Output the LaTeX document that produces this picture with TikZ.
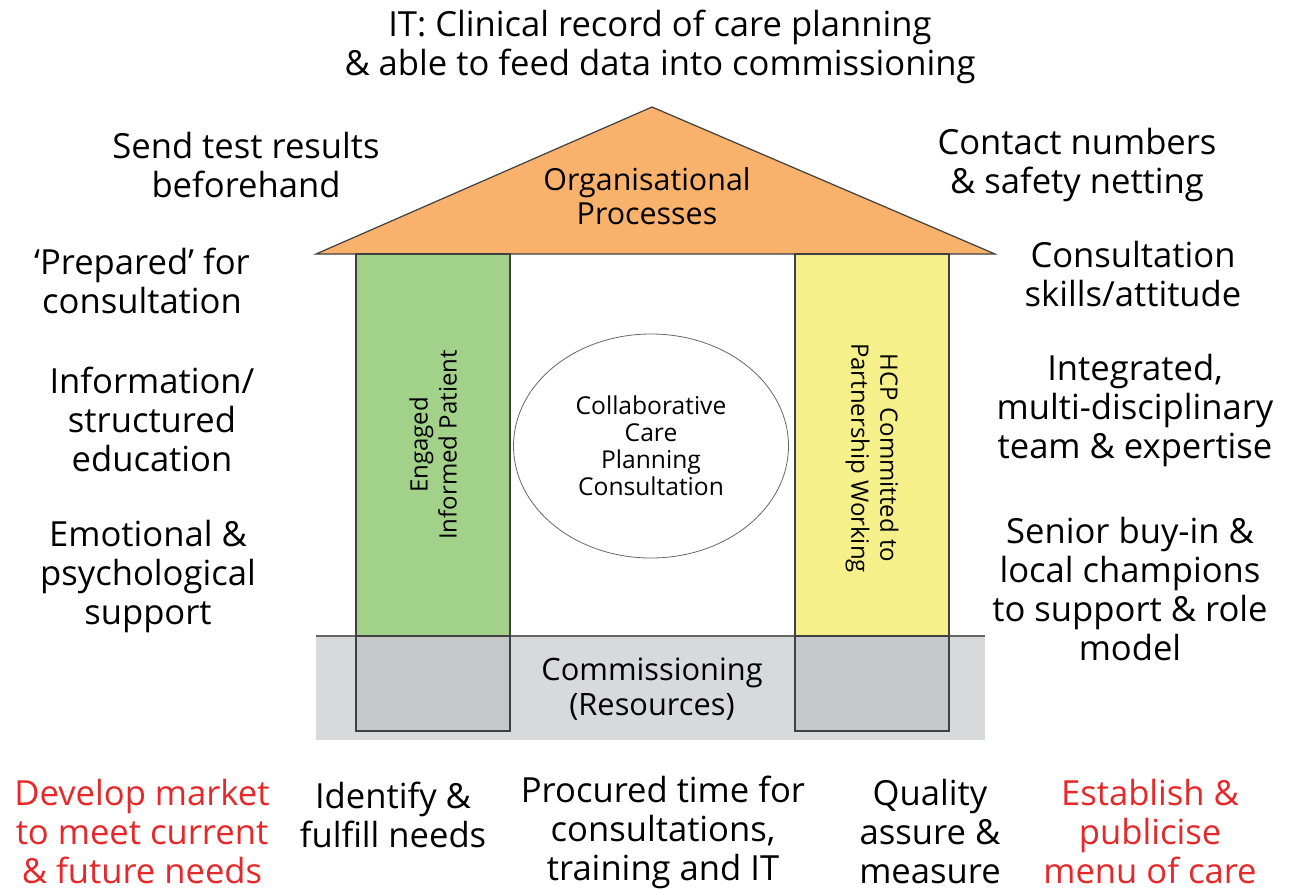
\documentclass[tikz,border=0pt]{standalone}
\usepackage{fontspec}
\setmainfont{Open Sans}
\usepackage{tikz}
\usetikzlibrary{shapes.geometric,positioning}
\definecolor{roofor}{RGB}{249,178,107}
\definecolor{patgreen}{RGB}{162,209,138}
\definecolor{hcpyellow}{RGB}{246,240,139}
\definecolor{basegray}{RGB}{216,217,219}
\definecolor{boxgray}{RGB}{198,199,201}
\definecolor{redtxt}{RGB}{230,40,43}

\begin{document}
\begin{tikzpicture}[x=0.5pt, y=-0.5pt,
    lbl/.style={align=center, inner sep=0pt, font=\fontsize{17.3}{19.5}\selectfont},
    redlbl/.style={lbl, text=redtxt},
    inlbl/.style={align=center, inner sep=0pt, font=\fontsize{15.2}{17}\selectfont},
    part/.style={draw=black!75, line width=0.6pt}
]
    \useasboundingbox (0,0) rectangle (1290,894);

    \fill[basegray] (316,636) rectangle (985,740);
    \draw[black!60, line width=0.8pt] (316,636) -- (985,636);
    \draw[part, fill=roofor] (316,254) -- (652,107) -- (995,254) -- cycle;
    \draw[part, fill=patgreen] (356,254) rectangle (510,636);
    \draw[part, fill=hcpyellow] (795,254) rectangle (949,636);
    \draw[part, fill=boxgray] (356,636) rectangle (510,731);
    \draw[part, fill=boxgray] (795,636) rectangle (949,731);

    \node[inlbl] (roof) at (647,196) {Organisational\\Processes};
    \node[inlbl, font=\fontsize{12}{14.5}\selectfont, rotate=90] (patient) at (433,445) {Engaged\\Informed Patient};
    \node[inlbl, font=\fontsize{12}{14.5}\selectfont, rotate=-90] (hcp) at (872,458) {HCP Committed to\\Partnership Working};
    \node[draw=black!60, line width=0.4pt, ellipse, minimum width=137.5pt, minimum height=112pt,
          align=center, inner sep=0pt, font=\fontsize{12.3}{13.5}\selectfont] (ccp) at (651,446)
          {Collaborative\\Care\\Planning\\Consultation};
    \node[inlbl, font=\fontsize{15.4}{17.5}\selectfont] (comm) at (652,689) {Commissioning\\(Resources)};

    \node[lbl] (it) at (660,47) {IT: Clinical record of care planning\\\& able to feed data into commissioning};
    \node[lbl] (send) at (246,165) {Send test results\\beforehand};
    \node[lbl] (contact) at (1077,165) {Contact numbers\\\& safety netting};
    \node[lbl] (prep) at (142,281) {`Prepared' for\\consultation};
    \node[lbl] (info) at (152,419) {Information/\\structured\\education};
    \node[lbl] (emo) at (148,577) {Emotional \&\\psychological\\support};
    \node[lbl] (skills) at (1133,274) {Consultation\\skills/attitude};
    \node[lbl] (team) at (1135,411) {Integrated,\\multi-disciplinary\\team \& expertise};
    \node[lbl] (senior) at (1130,589) {Senior buy-in \&\\local champions\\to support \& role\\model};

    \node[redlbl] (market) at (142,832) {Develop market\\to meet current\\\& future needs};
    \node[lbl] (needs) at (393,815) {Identify \&\\fulfill needs};
    \node[lbl] (time) at (663,832) {Procured time for\\consultations,\\training and IT};
    \node[lbl] (quality) at (930,832) {Quality\\assure \&\\measure};
    \node[redlbl] (menu) at (1150,832) {Establish \&\\publicise\\menu of care};
\end{tikzpicture}
\end{document}
